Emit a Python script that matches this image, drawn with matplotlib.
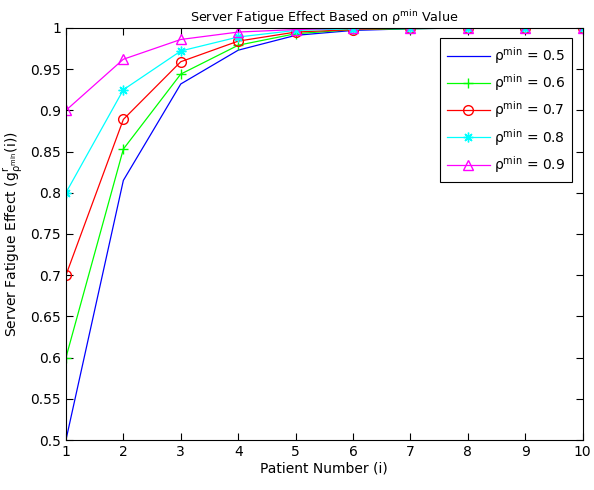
import numpy as np
import matplotlib
matplotlib.use('Agg')
import matplotlib.pyplot as plt

plt.rcParams['font.family'] = ['DejaVu Sans']
plt.rcParams['mathtext.fontset'] = 'dejavusans'

# 数据
patients = np.arange(1, 11)
rho_min = [0.5, 0.6, 0.7, 0.8, 0.9]
g_05 = [0.5, 0.815, 0.932, 0.973, 0.991, 0.997, 0.999, 1.0, 1.0, 1.0]
g_06 = [0.6, 0.853, 0.944, 0.979, 0.993, 0.998, 0.999, 1.0, 1.0, 1.0]
g_07 = [0.7, 0.889, 0.959, 0.984, 0.995, 0.998, 1.0, 1.0, 1.0, 1.0]
g_08 = [0.8, 0.925, 0.972, 0.989, 0.997, 0.999, 1.0, 1.0, 1.0, 1.0]
g_09 = [0.9, 0.962, 0.986, 0.995, 0.998, 1.0, 1.0, 1.0, 1.0, 1.0]

series = [g_05, g_06, g_07, g_08, g_09]
colors = ['#0000ff', '#00ff00', '#ff0000', '#00ffff', '#ff00ff']
markers = [None, '+', 'o', (8, 2, 0), '^']

fig = plt.figure(figsize=(5.94, 4.90), dpi=100)
ax = fig.add_axes([0.111, 0.102, 0.870, 0.841])

for vals, c, m, r in zip(series, colors, markers, rho_min):
    ax.plot(patients, vals, color=c, marker=m, markersize=7,
            markerfacecolor='none', markeredgecolor=c, linewidth=0.9,
            label=r'$\mathregular{\rho^{min}}$ = %.1f' % r)

ax.set_xlim(1, 10)
ax.set_ylim(0.5, 1.0)
ax.set_xticks(patients)
ax.set_yticks(np.arange(0.5, 1.001, 0.05))
ax.set_yticklabels(['0.5', '0.55', '0.6', '0.65', '0.7', '0.75', '0.8',
                    '0.85', '0.9', '0.95', '1'])
ax.tick_params(direction='in', top=True, right=True, labelsize=10, length=5)
for s in ax.spines.values():
    s.set_linewidth(0.8)

ax.set_xlabel('Patient Number (i)', fontsize=10, labelpad=2)
ax.set_ylabel(r'Server Fatigue Effect (g$\mathregular{^{r}_{\rho^{min}}}$(i))', fontsize=10)
ax.set_title(r'Server Fatigue Effect Based on $\mathregular{\rho^{min}}$ Value', fontsize=9.2, pad=4)

leg = ax.legend(loc='upper right', fontsize=10, fancybox=False, edgecolor='black',
                framealpha=1, borderaxespad=0.75, handlelength=3.1,
                handletextpad=0.3, labelspacing=0.45, borderpad=0.5)
leg.get_frame().set_linewidth(0.8)

fig.savefig('out.png', dpi=100)
